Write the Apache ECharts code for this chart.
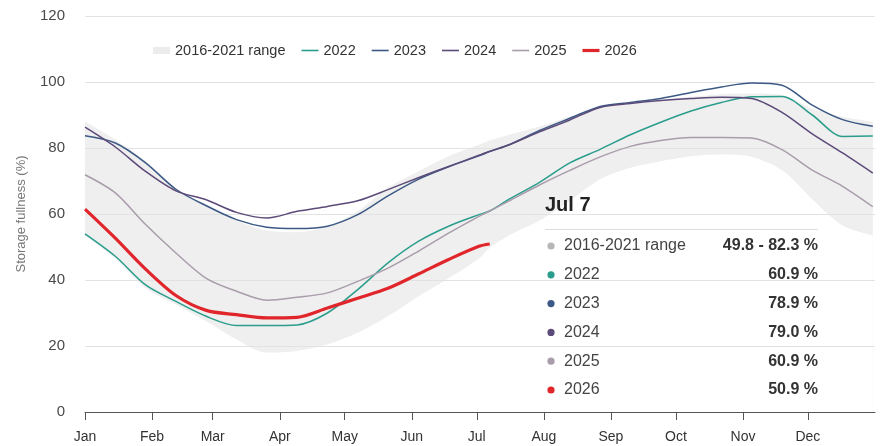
<!DOCTYPE html>
<html>
<head>
<meta charset="utf-8">
<script src="https://cdn.jsdelivr.net/npm/echarts@6/dist/echarts.min.js"></script>
<style>
  html, body { margin: 0; padding: 0; background: #fff; }
  #chart { width: 888px; height: 446px; }
</style>
</head>
<body>
<div id="chart"></div>
<script>
// ---------- DATA ----------
const monthLabels = ['Jan','Feb','Mar','Apr','May','Jun','Jul','Aug','Sep','Oct','Nov','Dec'];
const monthStartDays = [0,31,59,90,120,151,181,212,243,273,304,334];
const yTicks = [0,20,40,60,80,100,120];

// day of year (0 = Jan 1)
const days = [0,14,28,42,56,70,84,98,112,126,140,154,168,182,187,196,210,224,238,252,266,280,294,308,322,336,350,364];

const rangeLow  = [53.5,46.5,37.5,32.5,27.5,22.0,18.0,18.5,20.5,24.0,29.0,35.0,40.5,46.5,49.8,53.5,58.0,64.0,70.5,74.0,76.0,77.5,78.0,77.3,73.3,64.5,56.5,53.5];
const rangeHigh = [88.0,82.5,76.0,67.5,63.0,58.0,55.0,54.5,56.3,60.8,68.0,72.9,77.5,81.0,82.3,84.0,86.5,89.5,92.0,93.5,94.5,95.5,96.3,96.5,96.0,92.0,89.5,88.0];

const y2022 = [54.0,47.2,38.5,33.5,29.0,26.2,26.2,26.4,30.0,37.1,45.2,51.7,56.3,59.8,60.9,64.5,69.6,75.5,79.6,84.0,87.8,91.2,93.8,95.5,95.6,90.0,83.5,83.6];
const y2023 = [83.7,81.5,75.5,67.5,62.5,58.3,56.0,55.6,56.3,59.8,65.5,70.5,74.3,77.6,78.9,81.0,85.3,89.0,92.6,93.8,95.0,96.8,98.5,99.7,99.0,93.0,88.6,86.6];
const y2024 = [86.3,80.3,72.9,67.0,64.3,60.5,58.8,60.8,62.3,64.0,67.4,71.0,74.4,77.8,79.0,81.0,84.9,88.5,92.3,93.5,94.4,95.0,95.4,95.0,90.8,84.3,78.5,72.4];
const y2025 = [71.9,66.4,56.8,48.2,40.5,36.6,33.9,34.8,36.1,39.6,43.6,48.7,54.2,59.3,60.9,64.0,68.8,73.2,77.3,80.5,82.3,83.2,83.2,83.0,79.5,73.3,68.4,62.2];
const y2026 = [61.5,52.7,43.3,35.3,30.8,29.5,28.5,28.7,31.5,34.5,37.5,41.8,46.2,50.2,50.9];

const rangeName = '2016-2021 range';
const yearNames = ['2022','2023','2024','2025','2026'];
const yearValues = [y2022, y2023, y2024, y2025, y2026];

const tooltipDay = 187;
const tooltipTitle = 'Jul 7';

// ---------- STYLE ----------
const yearColors = ['#2a9d8c','#3c5985','#5c4a79','#a99cab','#e0262b'];
const yearWidths = [1.5,1.5,1.5,1.5,3.2];
const bandColor = '#efefef';
const FONT = 'Liberation Sans, Arial, sans-serif';

const pairs = (vals) => vals.map((v, i) => [days[i], v]);

// Band = area under the upper edge, with the area under the lower edge painted white over it.
const series = [
  {
    name: rangeName, type: 'line', z: 1,
    data: pairs(rangeHigh), symbol: 'none', smooth: 0.3, color: bandColor,
    lineStyle: { opacity: 0 }, areaStyle: { color: bandColor, opacity: 1 }, silent: true
  },
  {
    name: 'rangeLowMask', type: 'line', z: 1.5,
    data: pairs(rangeLow), symbol: 'none', smooth: 0.3, color: '#ffffff',
    lineStyle: { opacity: 0 }, areaStyle: { color: '#ffffff', opacity: 1 }, silent: true
  }
];
yearNames.forEach((n, k) => {
  series.push({
    name: n, type: 'line', z: 3 + k,
    data: pairs(yearValues[k]), symbol: 'none', smooth: 0.3,
    color: yearColors[k],
    lineStyle: { color: yearColors[k], width: yearWidths[k] }
  });
});

// ---------- TOOLTIP-LIKE PANEL ----------
const ti = days.indexOf(tooltipDay);
const rows = [{ label: rangeName, color: '#b7b7b7', value: rangeLow[ti].toFixed(1) + ' - ' + rangeHigh[ti].toFixed(1) + ' %' }]
  .concat(yearNames.map((n, k) => ({ label: n, color: yearColors[k], value: yearValues[k][ti].toFixed(1) + ' %' })));

const graphic = [
  { type: 'text', left: 545, top: 195, z: 100,
    style: { text: tooltipTitle, font: 'bold 20px ' + FONT, fill: '#222' } },
  { type: 'line', z: 100, shape: { x1: 545, y1: 229.5, x2: 818, y2: 229.5 },
    style: { stroke: '#dedede', lineWidth: 1 } }
];
rows.forEach((r, i) => {
  const cy = 246 + i * 28.8;
  graphic.push({ type: 'circle', z: 100, shape: { cx: 551, cy: cy, r: 3.6 }, style: { fill: r.color } });
  graphic.push({ type: 'text', z: 100, x: 564, y: cy,
    style: { text: r.label, font: '16px ' + FONT, fill: '#444', verticalAlign: 'middle', align: 'left' } });
  graphic.push({ type: 'text', z: 100, x: 818, y: cy,
    style: { text: r.value, font: 'bold 16px ' + FONT, fill: '#333', verticalAlign: 'middle', align: 'right' } });
});

const lineIcon = 'path://M0 0H17V1.6H0Z';
const thickIcon = 'path://M0 0H17V3.2H0Z';
const legendData = [{ name: rangeName, icon: 'path://M0 0H17V7H0Z', itemStyle: { color: '#ececec' } }]
  .concat(yearNames.map((n, k) => ({ name: n, icon: k === 4 ? thickIcon : lineIcon, itemStyle: { color: yearColors[k] } })));

const chart = echarts.init(document.getElementById('chart'), null, { renderer: 'canvas' });
chart.setOption({
  animation: false,
  backgroundColor: '#fff',
  textStyle: { fontFamily: FONT },
  grid: { left: 85, right: 13, top: 16, bottom: 34, containLabel: false },
  legend: {
    top: 38, left: 148, itemGap: 16, itemWidth: 17, itemHeight: 8,
    textStyle: { fontSize: 14.5, color: '#333', fontFamily: FONT },
    data: legendData,
    selectedMode: false
  },
  xAxis: {
    type: 'value', min: 0, max: 365, z: 2,
    axisLine: { show: true, lineStyle: { color: '#555', width: 1 } },
    axisTick: { show: true, customValues: monthStartDays, length: 8, lineStyle: { color: '#555' } },
    axisLabel: {
      customValues: monthStartDays, margin: 18, fontSize: 14, color: '#333', fontFamily: FONT,
      formatter: (v) => monthLabels[monthStartDays.indexOf(Math.round(v))] || ''
    },
    splitLine: { show: false }
  },
  yAxis: {
    type: 'value', min: yTicks[0], max: yTicks[yTicks.length - 1], interval: 20, z: 2,
    name: 'Storage fullness (%)', nameLocation: 'middle', nameGap: 57,
    nameTextStyle: { fontSize: 13, color: '#777', fontFamily: FONT },
    axisLine: { show: false }, axisTick: { show: false },
    axisLabel: { margin: 20, fontSize: 15, color: '#4a4a4a', fontFamily: FONT },
    splitLine: { lineStyle: { color: '#e2e2e2', width: 1 } }
  },
  series: series,
  graphic: graphic
});
</script>
</body>
</html>
